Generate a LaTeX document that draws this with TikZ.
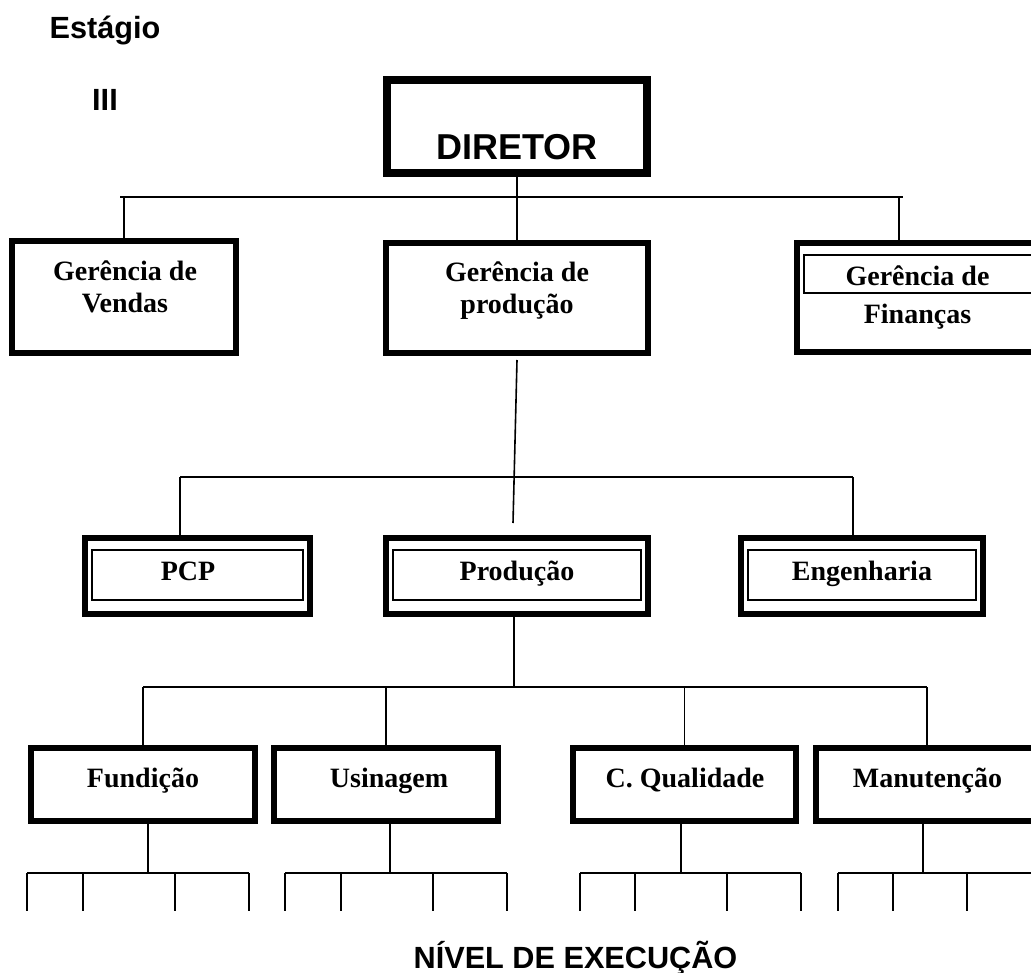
\documentclass[tikz,border=0pt]{standalone}
\usepackage{fontspec}
\setmainfont{Liberation Serif}
\setsansfont{Liberation Sans}
\begin{document}
\begin{tikzpicture}[x=0.75pt, y=-0.75pt,
  conn/.style={line width=1.2pt},
  unitbox/.style={draw, line width=4.5pt, inner sep=0pt},
  innerframe/.style={draw, line width=1.5pt},
  boxtext/.style={inner sep=0pt, align=center, font=\fontsize{21}{24}\selectfont\bfseries},
  linetext/.style={inner sep=0pt, anchor=base, font=\fontsize{21}{24}\selectfont\bfseries},
  headtext/.style={inner sep=0pt, font=\sffamily\bfseries\fontsize{23}{27}\selectfont}]

\useasboundingbox (0,0) rectangle (1031,973);
\clip (0,0) rectangle (1031,973);

% heading
\node[headtext, anchor=base] (stage) at (105,39) {Estágio};
\node[headtext, anchor=base] (stagenum) at (105,111) {III};

% director
\node[draw, line width=6pt, inner sep=0pt, minimum width=195pt, minimum height=69.75pt] (dir) at (517,126.5) {};
\node[inner sep=0pt, anchor=base, font=\sffamily\bfseries\fontsize{27}{31}\selectfont] (dirtxt) at (517,160) {DIRETOR};

% managers
\node[unitbox, minimum width=168pt, minimum height=84pt] (vendas) at (124,297) {};
\node[boxtext] (vendastxt) at (125,287) {Gerência de\\Vendas};
\node[unitbox, minimum width=196.5pt, minimum height=82.5pt] (gprod) at (517,298) {};
\node[boxtext] (gprodtxt) at (517,291) {Gerência de\\produção};
\node[unitbox, minimum width=180pt, minimum height=81.75pt] (fin) at (917,297.5) {};
\draw[innerframe] ([shift={(10,15)}]fin.north west) rectangle ([shift={(-7,53)}]fin.north east);
\node[boxtext, font=\fontsize{21}{28.5}\selectfont\bfseries] (fintxt) at (917.5,298) {Gerência de\\Finanças};

% production departments
\node[unitbox, minimum width=168.75pt, minimum height=57pt] (pcp) at (197.5,576) {};
\node[unitbox, minimum width=196.5pt, minimum height=57pt] (prod) at (517,576) {};
\node[unitbox, minimum width=181.5pt, minimum height=57pt] (eng) at (862,576) {};
\foreach \b in {pcp,prod,eng}
  \draw[innerframe] ([shift={(10,15)}]\b.north west) rectangle ([shift={(-10,-17)}]\b.south east);
\node[linetext] (pcptxt) at (188,580) {PCP};
\node[linetext] (prodtxt) at (517,580) {Produção};
\node[linetext] (engtxt) at (862,580) {Engenharia};

% sections
\node[unitbox, minimum width=168pt, minimum height=54.75pt] (fund) at (143,784.5) {};
\node[unitbox, minimum width=168pt, minimum height=54.75pt] (usin) at (386,784.5) {};
\node[unitbox, minimum width=167.25pt, minimum height=54.75pt] (qual) at (684.5,784.5) {};
\node[unitbox, minimum width=166.5pt, minimum height=54.75pt] (manu) at (927,784.5) {};
\node[linetext] (fundtxt) at (143,787) {Fundição};
\node[linetext] (usintxt) at (389,787) {Usinagem};
\node[linetext] (qualtxt) at (685,787) {C. Qualidade};
\node[linetext] (manutxt) at (927.5,787) {Manutenção};

% director to managers
\coordinate (topL) at (120,197);
\coordinate (topR) at (903,197);
\coordinate (finDrop) at (899,197);
\draw[conn] (topL) -- (topR);
\draw[conn] (dir.south) -- (gprod.north);
\draw[conn] (vendas.north |- topL) -- (vendas.north);
\draw[conn] (finDrop) -- (finDrop |- fin.north);

% production manager to departments
\coordinate (slantEnd) at (513,523);
\coordinate (midL) at (180,477);
\coordinate (midR) at (853,477);
\draw[conn] ([yshift=-3pt]gprod.south) -- (slantEnd);
\draw[conn] (midL) -- (midR);
\draw[conn] (midL) -- (midL |- pcp.north);
\draw[conn] (midR) -- (midR |- eng.north);

% production to sections
\coordinate (lowBar) at (514,687);
\draw[conn] (lowBar |- prod.south) -- (lowBar);
\draw[conn] (fund.north |- lowBar) -- (manu.north |- lowBar);
\foreach \b in {fund,usin,qual,manu}
  \draw[conn] (\b.north |- lowBar) -- (\b.north);

% execution level below each section
\foreach \b/\s/\l/\r/\ticks in {fund/148/27/249/{27,83,175,249},
                                  usin/390/285/507/{285,341,433,507},
                                  qual/681/580/801/{580,635,727,801},
                                  manu/923/838/1040/{838,893,967}} {
  \coordinate (\b-stub) at (\s,873);
  \draw[conn] (\b-stub |- \b.south) -- (\b-stub);
  \draw[conn] (\l,873) -- (\r,873);
  \foreach \t in \ticks
    \draw[conn] (\t,873) -- (\t,911);
}

\node[headtext, anchor=base] (level) at (575.5,968) {NÍVEL DE EXECUÇÃO};
\end{tikzpicture}
\end{document}
